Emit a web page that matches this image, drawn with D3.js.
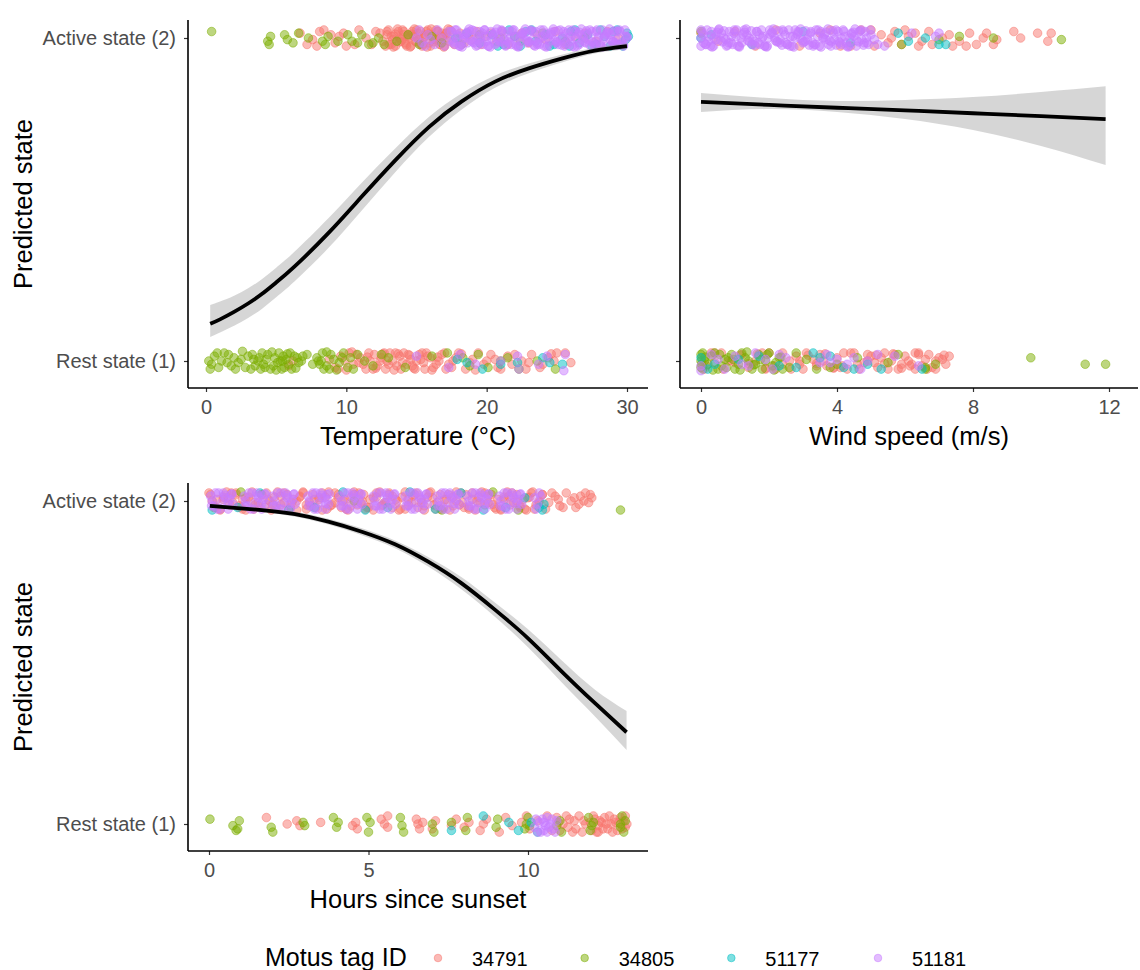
<!DOCTYPE html>
<html>
<head>
<meta charset="utf-8">
<script src="https://cdn.jsdelivr.net/npm/d3@7"></script>
<style>
body { margin: 0; background: #fff; }
text { font-family: "Liberation Sans", Arial, sans-serif; }
</style>
</head>
<body>
<div id="chart"></div>
<script>
var tags = ['34791', '34805', '51177', '51181'];
var tagColors = ['#F8766D', '#7CAE00', '#00BFC4', '#C77CFF'];
var stateLabels = ['Rest state (1)', 'Active state (2)'];

// points are [x, jitter] with jitter in hundredths of a state

// temperature
var tempTicks = [0, 10, 20, 30];
var tempActive = {
    '34791': [[6.7,1.5],[7.2,-2],[7.6,-0.5],[8.1,2],[8.9,1],[9.2,-1.5],[9.5,0.5],[9.8,1.5],[10.6,-2],[11.4,0],[12.1,2],[12.6,-1],[12.9,1],[13.2,-2],[13.4,0.5],[13.7,2],[13.9,-1],[14.1,1],[14.3,-2.5],[14.5,0],[14.7,2],[14.9,-1],[15.1,1.5],[15.3,-2],[15.5,0],[15.7,2],[15.9,-1.5],[16.1,1],[16.3,-0.5],[16.5,2],[16.7,-2],[16.9,0.5],[17.1,1.5],[17.3,-1],[17.5,2],[17.7,-2],[17.9,0],[18.1,1.5],[18.4,-1.5],[18.7,1],[19,-0.5],[19.3,2],[19.6,-2],[19.9,0.5],[20.3,1.5],[20.7,-1],[21.1,2],[21.5,-2],[22,0.5],[22.5,1.5],[23,-1.5],[23.6,1],[24.2,-0.5],[24.9,2],[25.6,-2],[26.3,0.5],[27,1.5],[27.8,-1],[28.6,2],[29.4,0],
              [12.8,-2.5],[13.0,2.5],[13.3,-0.5],[13.5,-2.5],[13.8,0],[14.0,2.5],[14.2,-1.5],[14.4,1],[14.6,-2.5],[14.8,0.5],[15.0,2.5],[15.2,-0.5],[15.4,-2.5],[15.6,1],[15.8,2.5],[16.0,-2.5],[16.2,0],[16.4,2.5],[16.6,-1],[16.8,1.5],[17.0,-2.5],[17.2,0],[17.4,2.5],[10.0,-2.5],[10.9,2.5],[11.8,-2],[12.4,1.5],[8.4,2.5],[7.9,-2.5],
              [12.9,2],[13.05,-2],[13.2,0.5],[13.35,-2.8],[13.5,1.2],[13.65,2.8],[13.8,-1.2],[13.95,-0.5],[14.1,2],[14.25,-2],[14.4,0.5],[14.55,-2.8],[14.7,1.2],[14.85,2.8],[15.0,-1.2],[15.15,-0.5],[15.3,2],[15.45,-2],[15.6,0.5],[15.75,-2.8],[15.9,1.2],[16.05,2.8],[16.2,-1.2],[16.35,-0.5],[16.5,2],[16.65,-2],[16.8,0.5],[16.95,-2.8],[17.1,1.2],[17.25,2.8]],
    '34805': [[0.4,2],[4.4,-1],[4.5,-2],[4.6,0.5],[5.6,1],[5.8,-0.5],[6.2,-1.5],[6.6,1.5],[7.3,0],[8.3,-1],[8.5,-2],[8.7,0.5],[9.4,-1],[10.1,1],[10.4,-1],[10.8,-1.5],[11.1,1],[11.6,-2],[11.9,-1.5],[12.3,0],[12.7,-2],[13.6,-1],[14.4,1],[15.2,-2],[16.1,0.5],[16.8,-1.5],[18.2,-2],[19.5,1],[21,0],[22.4,-1],[24,1.5],[25.6,-1],[27,0]],
    '51177': [[17.8,0],[18.6,1.5],[19.5,-1.5],[20.4,1],[21.2,-2],[22,0.5],[22.8,2],[23.5,-1],[24.2,1],[24.8,-2],[25.4,0],[26,2],[26.6,-1.5],[27.2,1],[27.8,-2],[28.4,0.5],[29,2],[29.5,-2],[29.9,-0.5],[30,1.5],
              [23.2,2.5],[24.5,-2.5],[25.9,-2.5],[26.3,2.5],[27.5,-2.5],[28.1,2.5],[28.8,-2.5],[29.3,2.5],[29.7,-2.5],[30.1,0.5],[22.4,-2.5],[21.6,2.5],[20.8,-2.5]],
    '51181': [[15,0],[15.4,-1.5],[15.8,1],[16.3,-2],[16.8,0],[17.3,2],[17.6,-1],[17.9,1],[18.2,-2],[18.5,0],[18.8,2],[19.1,-1.5],[19.4,0.5],[19.7,1.5],[20,-1],[20.3,2],[20.6,-2],[20.9,0],[21.2,1.5],[21.5,-1],[21.8,2],[22.1,-2],[22.4,0.5],[22.7,1.5],[23,-1],[23.3,2],[23.6,-2],[23.9,0],[24.2,1.5],[24.5,-1],[24.8,2],[25.1,-2],[25.4,0.5],[25.7,1.5],[26,-1],[26.3,2],[26.6,-2],[26.9,0],[27.2,1.5],[27.5,-1],[27.8,2],[28.1,-2],[28.4,0.5],[28.7,1.5],[29,-1],[29.3,2],[29.6,-2],[29.9,0.5],
              [17.45,-0.5],[17.75,2.5],[18.05,-2.5],[18.35,1],[18.65,-1.5],[18.95,2.5],[19.25,-2.5],[19.55,0],[19.85,2.5],[20.15,-2.5],[20.45,1],[20.75,-1.5],[21.05,2.5],[21.35,-2.5],[21.65,0],[21.95,2.5],[22.25,-2.5],[22.55,1],[22.85,-1.5],[23.15,2.5],[23.45,-2.5],[23.75,0],[24.05,2.5],[24.35,-2.5],[24.65,1],[24.95,-1.5],[25.25,2.5],[25.55,-2.5],[25.85,0],[26.15,2.5],[26.45,-2.5],[26.75,1],[27.05,-1.5],[27.35,2.5],[27.65,-2.5],[27.95,0],[28.25,2.5],[28.55,-2.5],[28.85,1],[29.15,-1.5],[29.45,2.5],[29.75,-2.5],[30,0],
              [15.2,2.5],[15.6,-2.5],[16.0,-0.5],[16.5,2.5],[17.0,-2.5],
              [17.5,2],[17.75,-2],[18.0,0.5],[18.25,-2.8],[18.5,1.2],[18.75,2.8],[19.0,-1.2],[19.25,-0.5],[19.5,2],[19.75,-2],[20.0,0.5],[20.25,-2.8],[20.5,1.2],[20.75,2.8],[21.0,-1.2],[21.25,-0.5],[21.5,2],[21.75,-2],[22.0,0.5],[22.25,-2.8],[22.5,1.2],[22.75,2.8],[23.0,-1.2],[23.25,-0.5],[23.5,2],[23.75,-2],[24.0,0.5],[24.25,-2.8],[24.5,1.2],[24.75,2.8],[25.0,-1.2],[25.25,-0.5],[25.5,2],[25.75,-2],[26.0,0.5],[26.25,-2.8],[26.5,1.2],[26.75,2.8],[27.0,-1.2],[27.25,-0.5],[27.5,2],[27.75,-2],[28.0,0.5],[28.25,-2.8],[28.5,1.2],[28.75,2.8],[29.0,-1.2],[29.25,-0.5],[29.5,2],[29.75,-2],[30.0,0.5],
              [17.6,-1.5],[17.85,2.5],[18.1,-2.5],[18.35,0],[18.6,1.8],[18.85,-0.8],[19.1,2.2],[19.35,-2.2],[19.6,-1.5],[19.85,2.5],[20.1,-2.5],[20.35,0],[20.6,1.8],[20.85,-0.8],[21.1,2.2],[21.35,-2.2],[21.6,-1.5],[21.85,2.5],[22.1,-2.5],[22.35,0],[22.6,1.8],[22.85,-0.8],[23.1,2.2],[23.35,-2.2],[23.6,-1.5],[23.85,2.5],[24.1,-2.5],[24.35,0],[24.6,1.8],[24.85,-0.8],[25.1,2.2],[25.35,-2.2],[25.6,-1.5],[25.85,2.5],[26.1,-2.5],[26.35,0],[26.6,1.8],[26.85,-0.8],[27.1,2.2],[27.35,-2.2],[27.6,-1.5],[27.85,2.5],[28.1,-2.5],[28.35,0],[28.6,1.8],[28.85,-0.8],[29.1,2.2],[29.35,-2.2],[29.6,-1.5],[29.85,2.5]]
};
var tempRest = {
    '34791': [[5.9,-1.5],[6.2,0],[8.8,0.5],[9.2,-2],[9.6,1.5],[10.2,2.5],[10.5,-1],[11,1],[11.4,-2.5],[11.7,0],[12,2],[12.2,-1.5],[12.5,1],[12.8,-2.5],[13.1,2.5],[13.3,0],[13.6,-1.5],[13.8,1.5],[14.1,2.5],[14.3,-1],[14.6,0.5],[14.9,-2.5],[15.2,2],[15.5,-0.5],[15.8,1.5],[16.2,-2],[16.6,0],[17,2.5],[17.3,-1],[17.8,1],[18.5,-2.5],[19,0.5],[19.8,-1],[20.3,2],[20.8,-2],[21.5,1.5],[22.5,0],[23.2,2],[23.8,-2],[24.4,1],[25,2.5],[25.6,2.5],[26,-0.5],
              [9.4,-2.5],[9.9,0],[10.7,2],[11.2,-1],[11.6,2.5],[11.9,-2.5],[12.4,0],[12.7,2.5],[13.0,-1],[13.5,2.5],[13.9,-2.5],[14.4,2],[14.7,-1.5],[15.0,0],[15.4,2.5],[15.6,-2.5],[16.0,1],[16.4,-1],[16.8,2],[17.1,-2.5],[17.6,0],[18.0,2.5],[18.8,-0.5],[19.4,2.5],[20.0,0],[21.0,-2.5],[22.0,2],[22.8,-2.5],[24.0,-1],[24.8,0],[21.8,-1],
              [10.0,-2.8],[10.4,2.8],[10.9,-0.5],[11.5,1.2],[12.1,-2.2],[12.6,2.2],[12.9,0],[13.4,-2.8],[13.7,2.2],[14.0,-0.5],[14.5,1.8],[14.8,-2.2],[15.3,0.5],[15.7,2.5],[16.1,-2.8],[16.5,1.2],[17.5,-2],[18.2,2.2],[19.2,-2.8],[20.6,0.5],[23.0,-0.5],[24.6,2.2]],
    '34805': [[0.2,0],[0.6,1.5],[1.3,2.5],[1.8,-1.5],[2,1],[2.6,3],[3.2,-2.5],[3.4,0.5],[3.5,-1.5],[4,2.5],[4.1,-1],[4.3,0.5],[4.6,-2.5],[4.9,1],[5.1,-0.5],[5.3,0],[5.5,1.5],[5.6,-2],[5.9,-1],[6.3,1.5],[6.5,1],[6.6,-0.5],[7.9,1],[8.1,-1],[8.3,2.5],[8.4,-2.5],[8.6,-1.5],[8.9,2],[9.5,-0.5],[10.1,-2],[10.8,2],[11.3,0],[11.9,-1.5],[13,1],[16.1,1.5],[18.3,1],[18.8,-1.5],[19.4,2],[21,0],[21.5,1],[22.3,-2.5],[23.6,0],
              [0.4,-1],[0.9,-2],[1.1,0],[1.6,2],[2.3,-0.5],[2.8,-2],[3.0,1.5],[3.7,0],[3.9,-2.5],[4.4,2],[4.8,-1.5],[5.2,2.5],[5.4,-2.5],[5.7,0.5],[6.0,2.5],[6.1,-2.5],[6.8,0],[7.2,2],[7.6,-1],[8.0,0],[8.8,-2.5],[9.1,0.5],[9.8,2.5],[10.3,1],[10.5,-2.5],[12.5,2],[14.2,-2],[17.2,2.5],[20.1,-2],[24.9,-2.5],
              [0.3,-2.5],[0.8,2.5],[1.5,-0.5],[2.1,-2.5],[2.5,0.5],[3.3,2],[3.8,1],[4.2,-2],[4.7,2.8],[5.0,-2.8],[5.45,0],[5.8,2.2],[6.4,-2.2],[6.9,1.5],[8.2,0],[8.6,2.8],[9.3,-2.8],[9.7,1]],
    '51177': [[17.9,0.5],[18.6,-0.5],[19.7,-2.5],[21,-1],[22.2,-0.5],[24,1],[24.5,-0.5],[25.4,-1]],
    '51181': [[15,1.5],[17.3,-2],[18.1,2],[19.2,-1],[21,0],[22.3,-2.5],[22.2,1.5],[23.7,-1],[24.3,1.5],[25.6,2],[25.5,-3]]
};
var tempFitX = [0.3, 1, 2, 3, 4, 5, 6.3, 8.7, 11.1, 13.5, 15.9, 18.2, 20.6, 23, 25.4, 27.7, 30];
var tempFit = [1.115, 1.129, 1.152, 1.178, 1.208, 1.243, 1.292, 1.395, 1.509, 1.622, 1.725, 1.803, 1.865, 1.906, 1.937, 1.961, 1.975];
var tempLo = [1.074, 1.088, 1.109, 1.133, 1.162, 1.197, 1.246, 1.349, 1.466, 1.585, 1.694, 1.778, 1.846, 1.891, 1.925, 1.952, 1.966];
var tempHi = [1.173, 1.184, 1.202, 1.225, 1.254, 1.289, 1.338, 1.441, 1.552, 1.659, 1.756, 1.828, 1.884, 1.921, 1.949, 1.970, 1.984];

// wind speed
var windTicks = [0, 4, 8, 12];
var windActive = {
    '34791': [[0,1.5],[0.5,-1],[1,2],[1.6,-2.5],[2.2,2.5],[2.9,-2.5],[3.5,1.5],[4.1,-2.5],[4.7,2.5],[5.1,-2.5],[5.3,1],[5.5,-1.5],[5.7,2],[5.9,-2],[6.1,0.5],[6.3,1.5],[6.5,-1],[6.8,-2],[7.1,0],[7.4,-2.5],[7.6,-1],[7.9,1.5],[8.1,-2],[8.3,0],[8.6,-2],[8.7,-0.5],[9.2,2],[9.4,0],[9.9,1.5],[10.2,-1],[10.3,1.5],
              [5.6,0],[6.0,2.5],[6.4,-2.5],[6.7,2],[7.3,1],[7.8,-2.5],[8.4,1.5],[5.0,2.5],[4.4,-2.5],[3.8,2.5]],
    '34805': [[0,2],[5.9,-2],[7,-0.5],[7.6,0.5],[8.6,0],[10.6,-0.5]],
    '51177': [[0,0],[0.3,1],[1.5,-2],[3,2],[4.4,-1.5],[5.8,1.5],[6.1,-1],[6.6,0],[7,-2],[7.2,-2]],
    '51181': [[0,0],[0.15,-2],[0.3,2],[0.45,-0.5],[0.6,1.5],[0.75,-2.5],[0.9,0.5],[1.05,2.5],[1.2,-1.5],[1.35,1],[1.5,-2],[1.65,2],[1.8,0],[1.95,-2.5],[2.1,1.5],[2.25,-1],[2.4,2.5],[2.55,-2],[2.7,0.5],[2.85,2],[3.0,-1.5],[3.15,1],[3.3,-2.5],[3.45,2.5],[3.6,0],[3.75,-2],[3.9,1.5],[4.05,-1],[4.2,2],[4.35,-2.5],[4.5,0.5],[4.65,2],[4.8,-1.5],[5.0,1],[5.2,-2],[0,-2.5],[0,2.5],[5.4,-2.5],[6.2,1.5],[6.9,0.5],[7.0,1.5],
              [0.07,1],[0.22,-1],[0.37,-2.5],[0.52,2.5],[0.67,0],[0.82,-1.5],[0.97,1.5],[1.12,-2.5],[1.27,2.5],[1.42,0],[1.57,-1],[1.72,1],[1.87,-2.5],[2.02,2.5],[2.17,0],[2.32,-1.5],[2.47,1],[2.62,-2.5],[2.77,2.5],[2.92,0],[3.07,-1],[3.22,1.5],[3.37,-2],[3.52,2],[3.67,-0.5],[3.82,-2.5],[3.97,2.5],[4.12,0],[4.27,-1.5],[4.42,1.5],[4.57,-2.5],[4.72,2.5],[4.87,0],[5.1,-0.5],
              [0.03,2],[0.13,-2],[0.23,0.5],[0.33,-2.8],[0.43,1.2],[0.53,2.8],[0.63,-1.2],[0.73,-0.5],[0.83,2],[0.93,-2],[1.03,0.5],[1.13,-2.8],[1.23,1.2],[1.33,2.8],[1.43,-1.2],[1.53,-0.5],[1.63,2],[1.73,-2],[1.83,0.5],[1.93,-2.8],[2.03,1.2],[2.13,2.8],[2.23,-1.2],[2.33,-0.5],[2.43,2],[2.53,-2],[2.63,0.5],[2.73,-2.8],[2.83,1.2],[2.93,2.8],[3.03,-1.2],[3.13,-0.5],[3.23,2],[3.33,-2],[3.43,0.5],[3.53,-2.8],[3.63,1.2],[3.73,2.8],[3.83,-1.2],[3.93,-0.5],[4.03,2],[4.13,-2],[4.23,0.5],[4.33,-2.8],[4.43,1.2],[4.53,2.8],[4.63,-1.2],[4.73,-0.5],[4.83,2],[4.93,-2],
              [0.08,-1.5],[0.18,2.5],[0.28,-2.5],[0.38,0],[0.48,1.8],[0.58,-0.8],[0.68,2.2],[0.78,-2.2],[0.88,-1.5],[0.98,2.5],[1.08,-2.5],[1.18,0],[1.28,1.8],[1.38,-0.8],[1.48,2.2],[1.58,-2.2],[1.68,-1.5],[1.78,2.5],[1.88,-2.5],[1.98,0],[2.08,1.8],[2.18,-0.8],[2.28,2.2],[2.38,-2.2],[2.48,-1.5],[2.58,2.5],[2.68,-2.5],[2.78,0],[2.88,1.8],[2.98,-0.8],[3.08,2.2],[3.18,-2.2],[3.28,-1.5],[3.38,2.5],[3.48,-2.5],[3.58,0],[3.68,1.8],[3.78,-0.8],[3.88,2.2],[3.98,-2.2],[4.08,-1.5],[4.18,2.5],[4.28,-2.5],[4.38,0],[4.48,1.8],[4.58,-0.8],[4.68,2.2],[4.78,-2.2],[4.88,-1.5],[4.98,2.5]]
};
var windRest = {
    '34791': [[0.6,2.5],[1,-0.5],[1.2,2],[1.6,0],[2,2.5],[2.4,-1],[2.8,1.5],[3,-2.5],[3.3,0.5],[3.5,2],[3.7,-1.5],[4,1],[4.3,-2.5],[4.5,2.5],[4.8,-0.5],[5,1.5],[5.2,-2],[5.4,2.5],[5.6,0],[5.8,-2.5],[6,1.5],[6.2,-1],[6.4,2],[6.6,0.5],[6.8,-2],[7,1],[7.3,1.5],[6.3,-2.5],[3.9,-2],[2.2,-2.5],
              [0.1,-2.5],[0.3,2.5],[0.8,0],[1.4,-2],[1.8,2.5],[2.6,0],[2.9,-1],[3.1,2.5],[3.4,-1.5],[3.6,0],[4.1,-2],[4.2,2.5],[4.6,-1],[4.9,2],[5.1,-0.5],[5.3,1],[5.5,-2.5],[5.7,2],[5.9,-1],[6.1,0],[6.3,2.5],[6.5,-1.5],[6.7,2],[6.9,-2.5],[7.1,0.5],[7.2,-1],[1.9,-2.5],[0.4,-0.5],
              [0.15,-1.5],[0.4,2.5],[0.65,-2.5],[0.9,0],[1.15,1.8],[1.4,-0.8],[1.65,2.2],[1.9,-2.2],[2.15,-1.5],[2.4,2.5],[2.65,-2.5],[2.9,0],[3.15,1.8],[3.4,-0.8],[3.65,2.2],[3.9,-2.2],[4.15,-1.5],[4.4,2.5],[4.65,-2.5],[4.9,0],[5.15,1.8],[5.4,-0.8],[5.65,2.2],[5.9,-2.2],[6.15,-1.5],[6.4,2.5],[6.65,-2.5],[6.9,0],[7.15,1.8]],
    '34805': [[0,2],[0,-2],[0.1,0],[0.3,1.5],[0.5,-2.5],[0.7,0.5],[0.9,2],[1.1,-1],[1.3,1],[1.5,-2.5],[1.7,2],[1.9,0],[2.1,-1.5],[2.3,1],[2.6,-2],[3.1,0.5],[3.8,-2],[4.6,1],[5.5,-0.5],[6.6,-2],[6.9,-1],[9.7,1],[11.3,-1],[11.9,-1],
              [0,0],[0.05,2.5],[0.05,-2.5],[0.2,-1],[0.4,2.5],[0.6,-1.5],[0.8,1],[1.0,-2.5],[1.2,2.5],[1.4,0],[1.6,-1],[1.8,-2.5],[2.0,2.5],[2.2,-0.5],[2.4,-2.5],[2.8,2.5],[3.4,-2.5],[4.0,-1],[5.8,2],[6.6,-2.5],
              [0.12,1.2],[0.35,-2.8],[0.55,2],[0.75,-2],[0.95,0.5],[1.15,-2.8],[1.35,2.8],[1.55,-1.2],[1.75,0.5],[1.95,2],[2.15,-2.8],[2.35,1.2],[0.02,1],[0.02,-1]],
    '51177': [[0,1],[1.7,1.5],[2.3,-1.5],[3.3,2.5],[3.8,1.5],[4.2,-2],[4.9,-1],[5.3,-2.5],[0.4,-1],
              [0.2,-2.5],[1.1,0.5],[2.8,-2],[3.5,1],[4.5,-2.5],[6.5,-2.5]],
    '51181': [[0,-1.5],[0,-3],[1,1.5],[1.4,-1.5],[1.9,0.5],[2.5,1],[3.7,2],[3.8,-0.5],[4.3,-1],[4.5,1],[4.9,0],[5.2,2],[6.4,-1.5],[0.5,0.5],
              [0.3,2],[0.7,-2.5],[1.2,-1],[1.6,2.5],[2.1,-2.5],[2.3,2],[3.5,-0.5],[4.0,0.5],[4.7,-2.5],[5.7,1.5]]
};
var windFitX = [0, 2, 4, 6, 8, 10, 11.9];
var windFit = [1.802, 1.793, 1.784, 1.776, 1.767, 1.758, 1.749];
var windLo = [1.771, 1.780, 1.771, 1.749, 1.715, 1.666, 1.607];
var windHi = [1.830, 1.814, 1.805, 1.808, 1.817, 1.833, 1.851];

// hours since sunset
var hoursTicks = [0, 5, 10];
var hoursActive = {
    '34791': [[0,2.5],[0.2,-2],[0.45,0.5],[0.7,2.5],[0.95,-1.5],[1.15,1],[1.4,-2.5],[1.65,2],[1.9,0],[2.1,-2],[2.35,2.5],[2.6,-0.5],[2.85,1.5],[3.05,-2.5],[3.3,0.5],[3.55,2.5],[3.8,-1.5],[4.05,1],[4.3,-2.5],[4.55,2],[4.8,0],[5.0,-2],[5.25,2.5],[5.5,-0.5],[5.75,1.5],[6.0,-2.5],[6.25,0.5],[6.5,2.5],[6.75,-1.5],[7.0,1],[7.25,-2.5],[7.5,2],[7.75,0],[8.0,-2],[8.25,2.5],[8.5,-0.5],[8.75,1.5],[9.0,-2.5],[9.25,0.5],[9.5,2.5],[9.75,-1.5],[10.0,1],[10.2,-2.5],[10.45,2],[10.65,-0.5],[10.85,1.5],[11.0,-1.5],[11.2,2.5],[11.35,0],[11.5,-2],[11.65,1.5],[11.8,2.5],[11.9,-0.5],[12.0,1],
              [0.1,0],[0.35,-2.5],[0.6,1],[0.85,2.5],[1.05,-2.5],[1.3,0],[1.55,-1.5],[1.8,2.5],[2.0,-1],[2.25,1.5],[2.5,-2.5],[2.75,0],[2.95,2.5],[3.2,-1.5],[3.45,1],[3.7,-2.5],[3.95,2.5],[4.2,0],[4.45,-1.5],[4.7,2.5],[4.9,-2.5],[5.15,1],[5.4,-1.5],[5.65,2.5],[5.9,0],[6.15,-2.5],[6.4,1.5],[6.65,-0.5],[6.9,2.5],[7.1,-2.5],[7.4,0.5],[7.65,-1.5],[7.9,2.5],[8.15,-2.5],[8.4,0],[8.65,2.5],[8.9,-1],[9.15,-2.5],[9.4,1.5],[9.65,0],[9.9,-2.5],[10.1,2.5],[10.35,0],[10.55,-2.5],[10.75,2.5],[10.95,0.5],[11.1,-2],[11.45,1],[11.6,-1],[11.75,0],[11.95,2],
              [0.05,2],[0.15,-2],[0.25,0.5],[0.35,-2.8],[0.45,1.2],[0.55,2.8],[0.65,-1.2],[0.75,-0.5],[0.85,2],[0.95,-2],[1.05,0.5],[1.15,-2.8],[1.25,1.2],[1.35,2.8],[1.45,-1.2],[1.55,-0.5],[1.65,2],[1.75,-2],[1.85,0.5],[1.95,-2.8],[2.05,1.2],[2.15,2.8],[2.25,-1.2],[2.35,-0.5],[2.45,2],[2.55,-2],[2.65,0.5],[2.75,-2.8],[2.85,1.2],[2.95,2.8],[3.05,-1.2],[3.15,-0.5],[3.25,2],[3.35,-2],[3.45,0.5],[3.55,-2.8],[3.65,1.2],[3.75,2.8],[3.85,-1.2],[3.95,-0.5],[4.05,2],[4.15,-2],[4.25,0.5],[4.35,-2.8],[4.45,1.2],[4.55,2.8],[4.65,-1.2],[4.75,-0.5],[4.85,2],[4.95,-2],[5.05,0.5],[5.15,-2.8],[5.25,1.2],[5.35,2.8],[5.45,-1.2],[5.55,-0.5],[5.65,2],[5.75,-2],[5.85,0.5],[5.95,-2.8],[6.05,1.2],[6.15,2.8],[6.25,-1.2],[6.35,-0.5],[6.45,2],[6.55,-2],[6.65,0.5],[6.75,-2.8],[6.85,1.2],[6.95,2.8],[7.05,-1.2],[7.15,-0.5],[7.25,2],[7.35,-2],[7.45,0.5],[7.55,-2.8],[7.65,1.2],[7.75,2.8],[7.85,-1.2],[7.95,-0.5],[8.05,2],[8.15,-2],[8.25,0.5],[8.35,-2.8],[8.45,1.2],[8.55,2.8],[8.65,-1.2],[8.75,-0.5],[8.85,2],[8.95,-2],[9.05,0.5],[9.15,-2.8],[9.25,1.2],[9.35,2.8],[9.45,-1.2],[9.55,-0.5],[9.65,2],[9.75,-2],[9.85,0.5],[9.95,-2.8],[10.05,1.2],[10.15,2.8],[10.25,-1.2],[10.35,-0.5],[10.45,2]],
    '34805': [[1.0,2.8],[4.55,0],[7.3,-2.8],[8.9,2.8],[9.7,-2.8],[12.9,-2.8]],
    '51177': [[0.1,-2.8],[0.9,-2],[1.6,2.5],[2.5,-2.8],[3.3,-2],[4.2,2.8],[4.9,-2.8],[5.6,-2],[6.3,2.8],[7.1,-2.5],[7.9,2.5],[8.6,-2.8],[9.3,-2],[9.9,1],[10.35,-2],[10.45,-2.8],[10.5,-1]],
    '51181': [[0.05,1.5],[0.15,-1.5],[0.3,2.5],[0.4,-0.5],[0.5,1],[0.6,-2.5],[0.7,2],[0.75,-1],[0.1,0],[0.25,-2.5],[0.45,2.5],[0.65,0.5],[0.08,-1.5],[0.2,2.5],[0.35,-2.5],[0.48,1.8],[0.6,-0.8],[0.72,2.2],
              [1.1,1.5],[1.2,-1.5],[1.35,2.5],[1.45,-0.5],[1.55,1],[1.65,-2.5],[1.75,2],[1.8,-1],[1.15,0],[1.3,-2.5],[1.5,2.5],[1.7,0.5],[1.13,-1.5],[1.25,2.5],[1.4,-2.5],[1.53,1.8],[1.65,-0.8],[1.77,2.2],
              [2.0,1.5],[2.1,-1.5],[2.25,2.5],[2.35,-0.5],[2.45,1],[2.55,-2.5],[2.65,2],[2.7,-1],[2.05,0],[2.2,-2.5],[2.4,2.5],[2.6,0.5],[2.03,-1.5],[2.15,2.5],[2.3,-2.5],[2.43,1.8],[2.55,-0.8],[2.67,2.2],
              [3.1,1.5],[3.2,-1.5],[3.35,2.5],[3.45,-0.5],[3.55,1],[3.65,-2.5],[3.7,2],[3.75,-1],[3.15,0],[3.3,-2.5],[3.5,2.5],[3.7,0.5],[3.13,-1.5],[3.25,2.5],[3.4,-2.5],[3.53,1.8],[3.65,-0.8],[3.77,2.2],
              [4.1,1.5],[4.2,-1.5],[4.35,2.5],[4.45,-0.5],[4.55,1],[4.65,-2.5],[4.75,2],[4.8,-1],[4.15,0],[4.3,-2.5],[4.5,2.5],[4.7,0.5],[4.13,-1.5],[4.25,2.5],[4.4,-2.5],[4.53,1.8],[4.65,-0.8],[4.77,2.2],
              [5.15,1.5],[5.25,-1.5],[5.4,2.5],[5.5,-0.5],[5.6,1],[5.7,-2.5],[5.8,2],[5.85,-1],[5.2,0],[5.35,-2.5],[5.55,2.5],[5.75,0.5],[5.18,-1.5],[5.3,2.5],[5.45,-2.5],[5.58,1.8],[5.7,-0.8],[5.82,2.2],
              [6.15,1.5],[6.25,-1.5],[6.4,2.5],[6.5,-0.5],[6.6,1],[6.7,-2.5],[6.8,2],[6.85,-1],[6.2,0],[6.35,-2.5],[6.55,2.5],[6.75,0.5],[6.18,-1.5],[6.3,2.5],[6.45,-2.5],[6.58,1.8],[6.7,-0.8],[6.82,2.2],
              [7.15,1.5],[7.25,-1.5],[7.4,2.5],[7.5,-0.5],[7.6,1],[7.7,-2.5],[7.8,2],[7.85,-1],[7.2,0],[7.35,-2.5],[7.55,2.5],[7.75,0.5],[7.18,-1.5],[7.3,2.5],[7.45,-2.5],[7.58,1.8],[7.7,-0.8],[7.82,2.2],
              [8.1,1.5],[8.2,-1.5],[8.35,2.5],[8.45,-0.5],[8.55,1],[8.65,-2.5],[8.75,2],[8.8,-1],[8.15,0],[8.3,-2.5],[8.5,2.5],[8.7,0.5],[8.13,-1.5],[8.25,2.5],[8.4,-2.5],[8.53,1.8],[8.65,-0.8],[8.77,2.2],
              [9.1,1.5],[9.2,-1.5],[9.35,2.5],[9.45,-0.5],[9.55,1],[9.65,-2.5],[9.75,2],[9.8,-1],[9.15,0],[9.3,-2.5],[9.5,2.5],[9.7,0.5],[9.13,-1.5],[9.25,2.5],[9.4,-2.5],[9.53,1.8],[9.65,-0.8],[9.77,2.2],
              [10.2,1],[10.3,-1],[10.4,1.5],[10.25,-2.5],[10.35,2.5]]
};
var hoursRest = {
    '34791': [[1.8,2],[2.45,0],[2.75,1],[2.85,-0.5],[3.5,0.5],[4.5,-0.5],[4.65,-1.5],[5.4,1.5],[5.5,0],[5.6,-1],[6.5,1.5],[6.6,-1.5],[6.7,0.5],[7.1,1],[7.6,-0.5],[7.75,1.5],[8.0,-1],[8.5,-2],[8.6,0],[8.7,1.5],[9.3,2],[9.5,-0.5],[9.8,0.5],[10.3,1],[10.6,2.5],[11,-2],[11.1,0],[11.3,1.5],[11.5,-1.5],[11.6,2.5],[11.8,0],[12,-2],[12.1,1.5],[12.2,-0.5],[12.3,0.5],[12.4,2],[12.5,-1.5],[12.6,0],[12.7,1.5],[12.8,-2],[12.85,0.5],[13,1],[13.05,-1],[12.2,-2.5],[11.4,-2.5],[10.9,2],
              [10.95,0.5],[11.2,2.5],[11.25,-1],[11.45,1],[11.7,-2.5],[11.75,1],[11.95,0.5],[12.05,2.5],[12.15,-2.5],[12.25,1],[12.35,-1.5],[12.45,0],[12.55,2.5],[12.65,-2.5],[12.75,0.5],[12.9,2],[12.95,-1.5],[13.05,2.5],[13.1,0],[10.05,-1.5],[10.75,-2],[9.95,2.5],[9.1,-2.5],[8.15,0.5],[7.0,-1.5],[6.55,0],[5.6,2.5],[4.6,0.5]],
    '34805': [[0.03,1.5],[0.75,-0.5],[0.85,-2],[0.95,1],[0.9,-1.5],[1.95,-1],[2,-2.5],[2.95,0.5],[3,-0.5],[3.9,2],[4,-1],[4.05,0.5],[4.95,2],[5,-2.5],[5.05,0.5],[6,2],[6.05,-0.5],[6.1,-2.5],[7,0],[7.05,-2.5],[7.6,0.5],[8.1,2],[8.05,-2],[9.05,1.5],[9,-1],[9.9,-1.5],[10,2],[10.9,-0.5],[11,1],[11.9,2],[12,-0.5],[12.9,0],[13,-2.5],[12.95,2.5],
              [11.95,-2],[12.05,0.5],[12.9,-1],[13.05,1],[10.05,-0.5],[11.05,-2.5],[9.95,0]],
    '51177': [[7.6,-2],[8.6,2.5],[9.4,0.5],[9.7,-2],[10.3,-2.5],[10.1,0.5]],
    '51181': [[10.2,-1],[10.35,0.5],[10.5,-2],[10.6,2],[10.7,0],[10.8,-1.5],[10.45,1.5],[10.55,-0.5],[10.9,1],
              [10.25,1.5],[10.4,-2.5],[10.5,0.5],[10.65,-1],[10.75,1.5],[10.85,-2.5],[10.3,-2.5],[10.6,-2.5]]
};
var hoursFitX = [0.03, 1.65, 2.7, 3.74, 4.79, 5.83, 6.87, 7.92, 8.97, 10.0, 11.06, 12.1, 13.09];
var hoursFit = [1.985, 1.972, 1.959, 1.936, 1.905, 1.866, 1.812, 1.745, 1.663, 1.575, 1.472, 1.374, 1.284];
var hoursLo = [1.979, 1.966, 1.951, 1.927, 1.894, 1.854, 1.797, 1.726, 1.641, 1.547, 1.438, 1.333, 1.229];
var hoursHi = [1.991, 1.978, 1.967, 1.945, 1.916, 1.878, 1.827, 1.764, 1.685, 1.603, 1.506, 1.416, 1.350];


var svg = d3.select('#chart').append('svg')
    .attr('width', 1140)
    .attr('height', 970);

var Panel = function(opts) {
    this.opts = opts;
    this.g = svg.append('g');
    this.x = d3.scaleLinear().domain(opts.xDomain).range(opts.xRange);
    this.y = d3.scaleLinear().domain([1, 2]).range(opts.yRange);
    return this;
};

Panel.prototype.drawPoints = function(rest, active) {
    var pts = [];
    [[1, rest], [2, active]].forEach(function(band) {
        tags.forEach(function(t, i) {
            band[1][t].forEach(function(p) {
                pts.push({ x: p[0], y: band[0] + p[1] / 100, c: tagColors[i] });
            });
        });
    });
    var x = this.x, y = this.y;
    // filled circle with a same-colour rim, both half transparent (ggplot shape 19)
    this.g.append('g').selectAll('circle').data(pts).enter().append('circle')
        .attr('cx', function(d) { return x(d.x); })
        .attr('cy', function(d) { return y(d.y); })
        .attr('r', 4.3)
        .attr('fill', function(d) { return d.c; })
        .attr('fill-opacity', 0.5)
        .attr('stroke', function(d) { return d.c; })
        .attr('stroke-opacity', 0.5)
        .attr('stroke-width', 1);
    return this;
};

Panel.prototype.drawSmooth = function(xs, fit, lo, hi) {
    var x = this.x, y = this.y;
    var rows = xs.map(function(v, i) { return { x: v, fit: fit[i], lo: lo[i], hi: hi[i] }; });
    var area = d3.area().curve(d3.curveNatural)
        .x(function(d) { return x(d.x); })
        .y0(function(d) { return y(d.lo); })
        .y1(function(d) { return y(d.hi); });
    var line = d3.line().curve(d3.curveNatural)
        .x(function(d) { return x(d.x); })
        .y(function(d) { return y(d.fit); });
    this.g.append('path').datum(rows).attr('d', area)
        .attr('fill', '#999999').attr('fill-opacity', 0.4);
    this.g.append('path').datum(rows).attr('d', line)
        .attr('fill', 'none').attr('stroke', '#000').attr('stroke-width', 3.8);
    return this;
};

Panel.prototype.drawAxes = function() {
    var o = this.opts;
    var styleAxis = function(sel) {
        sel.select('.domain').remove();
        sel.selectAll('.tick line').attr('stroke', '#333').attr('stroke-width', 1.2);
        sel.selectAll('.tick text').attr('fill', '#4d4d4d').attr('font-size', 20)
            .attr('font-family', '"Liberation Sans", Arial, sans-serif');
    };
    this.g.append('g').attr('transform', 'translate(0,' + o.bottom + ')')
        .call(d3.axisBottom(this.x).tickValues(o.xTicks).tickSize(4).tickPadding(8))
        .call(styleAxis);
    this.g.append('g').attr('transform', 'translate(' + o.left + ',0)')
        .call(d3.axisLeft(this.y).tickValues([1, 2]).tickSize(4).tickPadding(8)
            .tickFormat(function(d) { return o.yLabels ? stateLabels[d - 1] : ''; }))
        .call(styleAxis);

    // axis lines run the whole panel, like ggplot's theme_classic
    this.g.append('line').attr('x1', o.left).attr('x2', o.right)
        .attr('y1', o.bottom).attr('y2', o.bottom)
        .attr('stroke', '#000').attr('stroke-width', 1.6);
    this.g.append('line').attr('x1', o.left).attr('x2', o.left)
        .attr('y1', o.top).attr('y2', o.bottom)
        .attr('stroke', '#000').attr('stroke-width', 1.6);

    this.g.append('text')
        .attr('x', (o.left + o.right) / 2).attr('y', o.bottom + 57)
        .attr('text-anchor', 'middle').attr('font-size', 25.5).attr('fill', '#000')
        .text(o.xTitle);
    if (o.yLabels) {
        this.g.append('text')
            .attr('transform', 'translate(32,' + (o.top + o.bottom) / 2 + ') rotate(-90)')
            .attr('text-anchor', 'middle').attr('font-size', 25.5).attr('fill', '#000')
            .text('Predicted state');
    }
    return this;
};

new Panel({ xDomain: [0, 30], xRange: [206, 627], yRange: [361, 38],
    left: 188, right: 648, top: 20, bottom: 388,
    xTicks: tempTicks, xTitle: 'Temperature (°C)', yLabels: true })
    .drawPoints(tempRest, tempActive)
    .drawSmooth(tempFitX, tempFit, tempLo, tempHi)
    .drawAxes();

new Panel({ xDomain: [0, 12], xRange: [701, 1109], yRange: [361, 38],
    left: 680, right: 1138, top: 20, bottom: 388,
    xTicks: windTicks, xTitle: 'Wind speed (m/s)', yLabels: false })
    .drawPoints(windRest, windActive)
    .drawSmooth(windFitX, windFit, windLo, windHi)
    .drawAxes();

new Panel({ xDomain: [0, 10], xRange: [209, 528], yRange: [824, 501],
    left: 188, right: 648, top: 483, bottom: 851,
    xTicks: hoursTicks, xTitle: 'Hours since sunset', yLabels: true })
    .drawPoints(hoursRest, hoursActive)
    .drawSmooth(hoursFitX, hoursFit, hoursLo, hoursHi)
    .drawAxes();

// legend
var legend = svg.append('g').attr('transform', 'translate(0,966)');
legend.append('text').attr('x', 265).attr('font-size', 25).attr('fill', '#000').text('Motus tag ID');
var keyX = d3.scalePoint().domain(tags).range([438, 878]);
var keys = legend.selectAll('g.key').data(tags).enter().append('g').attr('class', 'key')
    .attr('transform', function(d) { return 'translate(' + keyX(d) + ',0)'; });
keys.append('circle').attr('cy', -8).attr('r', 3.8)
    .attr('fill', function(d, i) { return tagColors[i]; }).attr('fill-opacity', 0.5)
    .attr('stroke', function(d, i) { return tagColors[i]; }).attr('stroke-opacity', 0.5);
keys.append('text').attr('x', 34).attr('font-size', 20).attr('fill', '#000')
    .text(function(d) { return d; });
</script>
</body>
</html>
